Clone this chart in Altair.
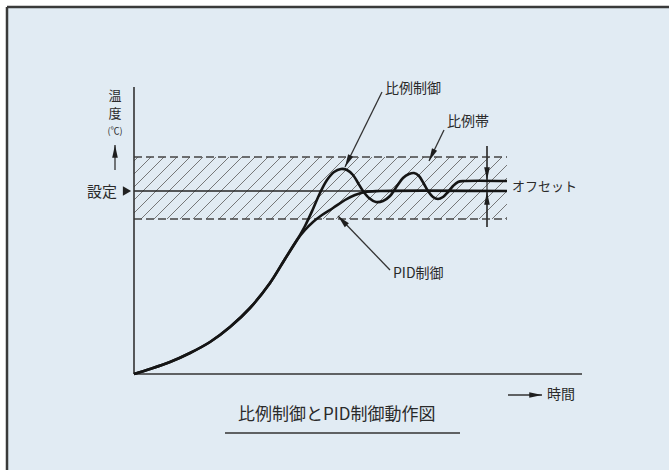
import math
import altair as alt
import pandas as pd

# ---- schematic data (units: t = time, v = temperature, arbitrary units) ----
# common rise + proportional control response (settles with offset)
prop_t = [0, 16, 36, 56, 76, 96, 116, 136, 151, 163,
          171, 179, 186, 193, 200, 207, 213, 219, 224, 229, 235, 242, 249, 256, 263,
          269, 275, 280, 285, 290, 294, 299, 304, 309, 314, 319, 324, 330, 373]
prop_v = [0, 5, 12, 21, 32, 47, 66, 91, 115, 134,
          148, 165, 181, 194, 202, 205, 204, 199, 191, 183, 176, 172, 173, 178, 188,
          196, 200, 201, 198, 190, 183, 177, 175, 177, 182, 188, 192, 193, 193]
# PID control response (settles on set point)
pid_t = [0, 16, 36, 56, 76, 96, 116, 136, 151, 163,
         171, 179, 188, 199, 211, 221, 231, 246, 373]
pid_v = [0, 5, 12, 21, 32, 47, 66, 91, 115, 134,
         144, 152, 159, 166, 174, 179, 182, 183, 183]

set_point = 183
band_low, band_high = 155, 217
band_end = 373
axis_t_end = 448
axis_v_end = 287

FONT = "Noto Sans CJK JP"
INK = "#262626"

xs = alt.Scale(domain=[-134, 535], range=[0, 669], nice=False, zero=False)
ys = alt.Scale(domain=[-96, 374], range=[470, 0], nice=False, zero=False)


def X(f="x"):
    return alt.X(f"{f}:Q", scale=xs, axis=None)


def Y(f="y"):
    return alt.Y(f"{f}:Q", scale=ys, axis=None)


# background panel and frame
bg = alt.Chart(pd.DataFrame({"x": [-127], "x2": [535], "y": [367], "y2": [-96]})).mark_rect(
    color="#e1ebf3").encode(x=X(), x2="x2:Q", y=Y(), y2="y2:Q")
frame = alt.Chart(pd.DataFrame({
    "x": [-127, -127], "x2": [535, -127], "y": [367, 367], "y2": [367, -96]
})).mark_rule(color="#3a3a3a", strokeWidth=2.5).encode(x=X(), x2="x2:Q", y=Y(), y2="y2:Q")

# hatch of proportional band (45 degree lines clipped to the band)
h = band_high - band_low
segs = []
a = -h + 4
while a < band_end:
    t0 = max(a, 0)
    t1 = min(a + h, band_end)
    if t1 > t0:
        segs.append({"x": t0, "y": band_low + (t0 - a), "x2": t1, "y2": band_low + (t1 - a)})
    a += 13
hatch = alt.Chart(pd.DataFrame(segs)).mark_rule(color="#6a6a6a", strokeWidth=0.9).encode(
    x=X(), y=Y(), x2="x2:Q", y2="y2:Q")

dashed = alt.Chart(pd.DataFrame({"x": [0, 0], "x2": [band_end, band_end],
                                 "y": [band_low, band_high]})).mark_rule(
    color="#444444", strokeWidth=1.6, strokeDash=[8, 4]).encode(x=X(), x2="x2:Q", y=Y())

setline = alt.Chart(pd.DataFrame({"x": [0], "x2": [band_end], "y": [set_point]})).mark_rule(
    color=INK, strokeWidth=1.4).encode(x=X(), x2="x2:Q", y=Y())

axes = alt.Chart(pd.DataFrame({"x": [0, 0], "x2": [axis_t_end, 0], "y": [0, 0],
                               "y2": [0, axis_v_end]})).mark_rule(
    color="#333333", strokeWidth=1.6).encode(x=X(), x2="x2:Q", y=Y(), y2="y2:Q")

prop_line = alt.Chart(pd.DataFrame({"x": prop_t, "y": prop_v})).mark_line(
    color="#151515", strokeWidth=2.6, interpolate="catmull-rom").encode(x=X(), y=Y())
pid_line = alt.Chart(pd.DataFrame({"x": pid_t, "y": pid_v})).mark_line(
    color="#151515", strokeWidth=2.6, interpolate="catmull-rom").encode(x=X(), y=Y())

# annotation arrows: (from_t, from_v, tip_t, tip_v)
arrows = [
    (248, 282, 211, 207),   # 比例制御
    (310, 244, 295, 213),   # 比例帯
    (256, 104, 204, 158),   # PID制御
    (353, 228, 353, 194),   # offset (down)
    (353, 147, 353, 182),   # offset (up)
    (-19, 204, -19, 229),   # 温度 arrow up
    (374, -21, 408, -21),   # 時間 arrow
]
ar = pd.DataFrame([{"x": f[0], "y": f[1], "x2": f[2], "y2": f[3],
                    "angle": (math.degrees(math.atan2(f[2] - f[0], f[3] - f[1])) + 360) % 360}
                   for f in arrows])
arrow_lines = alt.Chart(ar).mark_rule(color="#333333", strokeWidth=1.3).encode(
    x=X(), y=Y(), x2="x2:Q", y2="y2:Q")
arrow_heads = alt.Chart(ar).mark_point(
    shape="M0,0L-0.4,1.8L0.4,1.8Z", filled=True, color="#1e1e1e", size=200, opacity=1,
    strokeWidth=0).encode(
    x=X("x2"), y=Y("y2"), angle=alt.Angle("angle:Q", scale=None))

# offset marker vertical line
offset_rule = alt.Chart(pd.DataFrame({"x": [353], "y": [147], "y2": [228]})).mark_rule(
    color="#333333", strokeWidth=1.2).encode(x=X(), y=Y(), y2="y2:Q")

# set point marker
set_mark = alt.Chart(pd.DataFrame({"x": [-7], "y": [set_point]})).mark_point(
    shape="triangle-right", filled=True, color="#222222", size=90, opacity=1).encode(x=X(), y=Y())

# labels
lab_left = pd.DataFrame({
    "x": [251, 313, 259, 378, 413, 104],
    "y": [285, 252, 100, 187, -21, -41],
    "text": ["比例制御", "比例帯", "PID制御", "オフセット", "時間", "比例制御とPID制御動作図"],
    "size": [14, 14, 14, 13, 14, 17],
})
labels_left = alt.Chart(lab_left).mark_text(align="left", baseline="middle", font=FONT,
                                            color="#2a2a2a").encode(
    x=X(), y=Y(), text="text:N", size=alt.Size("size:Q", scale=None))

lab_center = pd.DataFrame({
    "x": [-19, -19, -19],
    "y": [278, 260, 243],
    "text": ["温", "度", "(℃)"],
    "size": [13, 13, 9],
})
labels_center = alt.Chart(lab_center).mark_text(align="center", baseline="middle", font=FONT,
                                                color="#2a2a2a").encode(
    x=X(), y=Y(), text="text:N", size=alt.Size("size:Q", scale=None))

labels_right = alt.Chart(pd.DataFrame({"x": [-17], "y": [182], "text": ["設定"]})).mark_text(
    align="right", baseline="middle", font=FONT, fontSize=15, color="#2a2a2a").encode(
    x=X(), y=Y(), text="text:N")

underline = alt.Chart(pd.DataFrame({"x": [91], "x2": [326], "y": [-59]})).mark_rule(
    color="#333333", strokeWidth=1.6).encode(x=X(), x2="x2:Q", y=Y())

chart = alt.layer(
    bg, frame, hatch, dashed, setline, axes, offset_rule, prop_line, pid_line,
    arrow_lines, arrow_heads, set_mark, labels_left, labels_center, labels_right, underline,
).properties(
    width=669, height=470, padding=0, background="white",
    autosize=alt.AutoSizeParams(type="none"),
).configure_view(stroke=None)

chart.save("out.html", embed_options={"renderer": "svg", "actions": False})
